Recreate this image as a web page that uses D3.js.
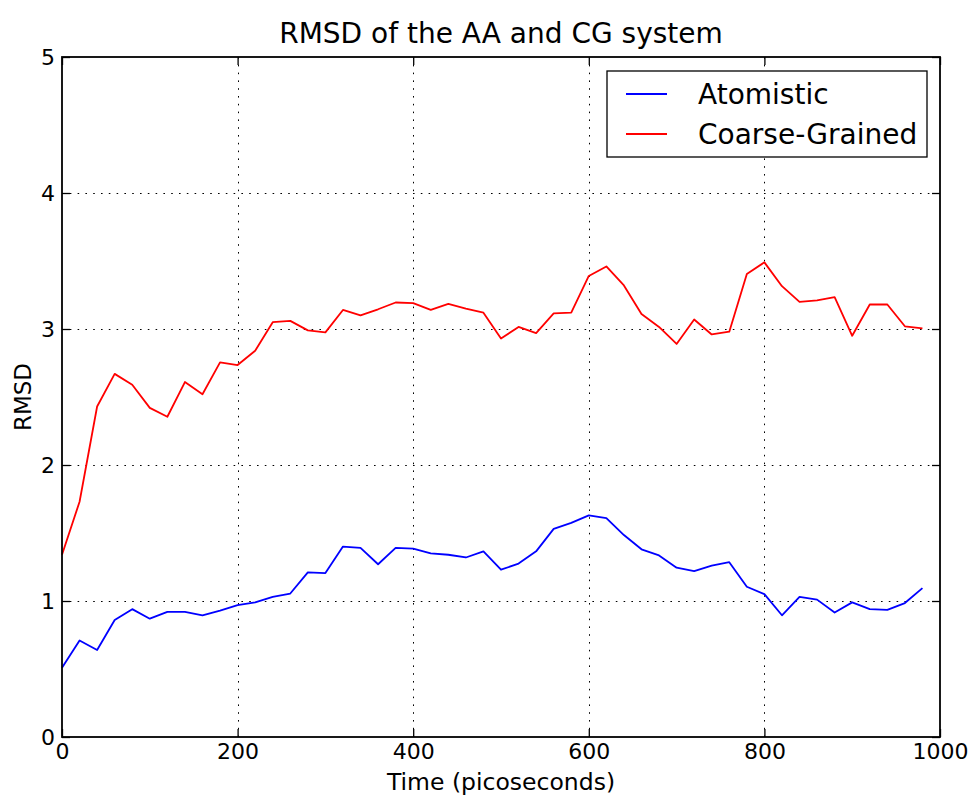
<!DOCTYPE html>
<html>
<head>
<meta charset="utf-8">
<script src="https://cdn.jsdelivr.net/npm/d3@7"></script>
<style>
  html, body { margin: 0; padding: 0; background: #fff; }
  svg { display: block; font-family: "DejaVu Sans", sans-serif; }
</style>
</head>
<body>
<svg id="chart" width="977" height="800"></svg>
<script>
// Sampling times (ps), one frame every 20 ps
const times = [0,20,40,60,80,100,120,140,160,180,200,220,240,260,280,300,320,340,360,380,
               400,420,440,460,480,500,520,540,560,580,600,620,640,660,680,700,720,740,760,780,
               800,820,840,860,880,900,920,940,960,980];

// RMSD of the all-atom trajectory
const atomistic = [0.51,0.71,0.64,0.86,0.94,0.87,0.92,0.92,0.895,0.93,0.97,0.99,1.03,1.055,1.21,1.205,1.40,1.39,1.27,1.39,
                   1.385,1.35,1.34,1.32,1.365,1.23,1.275,1.365,1.53,1.575,1.63,1.61,1.485,1.38,1.335,1.245,1.22,1.26,1.285,1.105,
                   1.05,0.895,1.03,1.01,0.915,0.99,0.94,0.935,0.985,1.095];

// RMSD of the coarse-grained trajectory
const coarseGrained = [1.34,1.73,2.43,2.67,2.59,2.42,2.355,2.61,2.52,2.755,2.735,2.84,3.05,3.06,2.99,2.975,3.14,3.10,3.145,3.195,
                       3.19,3.14,3.185,3.15,3.12,2.93,3.015,2.97,3.115,3.12,3.39,3.46,3.32,3.11,3.015,2.89,3.07,2.96,2.98,3.405,
                       3.49,3.315,3.20,3.21,3.235,2.95,3.18,3.18,3.02,3.005];

const xTicks = [0,200,400,600,800,1000];
const yTicks = [0,1,2,3,4,5];
const seriesNames = ["Atomistic","Coarse-Grained"];
const seriesColors = ["#0000ff","#ff0000"];

const svg = d3.select("#chart");
const plot = {left: 62, right: 940, top: 57, bottom: 737};

const x = d3.scaleLinear().domain([0,1000]).range([plot.left, plot.right]);
const y = d3.scaleLinear().domain([0,5]).range([plot.bottom, plot.top]);

// Dotted grid
const grid = svg.append("g").attr("stroke","#000").attr("stroke-width",1).attr("stroke-dasharray","1.6,6.2");
grid.selectAll("line.gx").data(xTicks.slice(1,-1)).join("line")
  .attr("x1", d => Math.round(x(d)) + 0.5).attr("x2", d => Math.round(x(d)) + 0.5)
  .attr("y1", plot.top).attr("y2", plot.bottom);
grid.selectAll("line.gy").data(yTicks.slice(1,-1)).join("line")
  .attr("y1", d => Math.round(y(d)) + 0.5).attr("y2", d => Math.round(y(d)) + 0.5)
  .attr("x1", plot.left).attr("x2", plot.right);

// Data lines
const line = d3.line().x((d,i) => x(times[i])).y(d => y(d));
[atomistic, coarseGrained].forEach((vals, k) => {
  svg.append("path").datum(vals)
    .attr("fill","none").attr("stroke", seriesColors[k])
    .attr("stroke-width",1.8).attr("stroke-linejoin","round")
    .attr("d", line);
});

// Axes with inward ticks on all four sides
const tickLen = 8;
const axBottom = d3.axisBottom(x).tickValues(xTicks).tickSize(-tickLen).tickPadding(6).tickFormat(d3.format("d"));
const axTop = d3.axisTop(x).tickValues(xTicks).tickSize(-tickLen).tickFormat("");
const axLeft = d3.axisLeft(y).tickValues(yTicks).tickSize(-tickLen).tickPadding(7).tickFormat(d3.format("d"));
const axRight = d3.axisRight(y).tickValues(yTicks).tickSize(-tickLen).tickFormat("");

function styleAxis(g) {
  g.select(".domain").remove();
  g.selectAll(".tick line").attr("stroke","#000").attr("stroke-width",1.3);
  g.selectAll(".tick text").attr("fill","#000").attr("font-size",22).attr("font-family","DejaVu Sans, sans-serif");
}
svg.append("g").attr("transform",`translate(0,${plot.bottom})`).call(axBottom).call(styleAxis);
svg.append("g").attr("transform",`translate(0,${plot.top})`).call(axTop).call(styleAxis);
svg.append("g").attr("transform",`translate(${plot.left},0)`).call(axLeft).call(styleAxis);
svg.append("g").attr("transform",`translate(${plot.right},0)`).call(axRight).call(styleAxis);

// Frame
svg.append("rect")
  .attr("x", plot.left).attr("y", plot.top)
  .attr("width", plot.right - plot.left).attr("height", plot.bottom - plot.top)
  .attr("fill","none").attr("stroke","#000").attr("stroke-width",1.8);

// Title and axis labels
svg.append("text").attr("x", (plot.left + plot.right)/2).attr("y", 43)
  .attr("text-anchor","middle").attr("font-size",28).attr("fill","#000")
  .text("RMSD of the AA and CG system");
svg.append("text").attr("x", (plot.left + plot.right)/2).attr("y", 790)
  .attr("text-anchor","middle").attr("font-size",23.5).attr("fill","#000")
  .text("Time (picoseconds)");
svg.append("text").attr("transform",`translate(31,${(plot.top + plot.bottom)/2}) rotate(-90)`)
  .attr("text-anchor","middle").attr("font-size",23).attr("fill","#000")
  .text("RMSD");

// Legend
const legend = svg.append("g");
legend.append("rect").attr("x",607).attr("y",71).attr("width",320).attr("height",86)
  .attr("fill","#fff").attr("stroke","#000").attr("stroke-width",1.3);
seriesNames.forEach((name, k) => {
  const ly = 94 + k * 40;
  legend.append("line").attr("x1",626).attr("x2",667).attr("y1",ly).attr("y2",ly)
    .attr("stroke", seriesColors[k]).attr("stroke-width",1.8);
  legend.append("text").attr("x",698).attr("y",ly).attr("dy","0.35em")
    .attr("font-size",28).attr("fill","#000").text(name);
});
</script>
</body>
</html>
